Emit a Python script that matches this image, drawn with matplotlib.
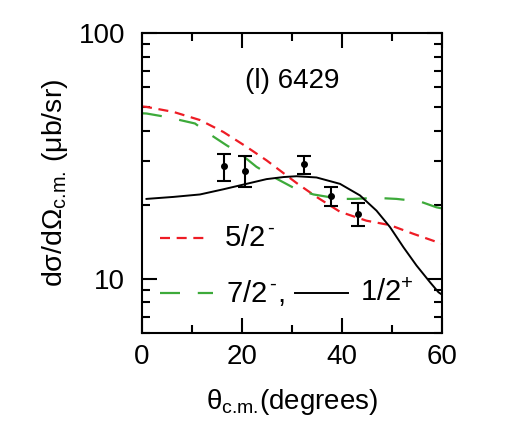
import numpy as np
import matplotlib
matplotlib.use('Agg')
import matplotlib.pyplot as plt
from matplotlib.ticker import LogLocator, NullFormatter, FixedLocator

plt.rcParams['font.family'] = ['Liberation Sans', 'DejaVu Sans']
plt.rcParams['mathtext.fontset'] = 'custom'
plt.rcParams['mathtext.rm'] = 'Liberation Sans'
plt.rcParams['mathtext.it'] = 'Liberation Sans:italic'

# data points
theta_exp = [16.3, 20.5, 32.3, 37.7, 43.1]
xs_exp = [28.6, 27.4, 29.2, 21.7, 18.4]
err_lo = [3.7, 3.8, 2.6, 2.0, 2.1]
err_hi = [3.7, 4.1, 2.3, 1.9, 2.0]

# 5/2- curve
theta_52 = [0.0, 0.9, 6.3, 11.6, 16.3, 20.9, 24.9, 28.9, 30.9, 34.9, 39.6,
            44.9, 49.6, 54.3, 58.9, 60.0]
xs_52 = [50.2, 50.0, 47.7, 44.2, 39.5, 34.4, 30.3, 26.3, 24.5, 21.5, 18.7,
         17.2, 16.5, 15.2, 14.1, 13.9]

# 7/2- curve
theta_72 = [0.0, 0.9, 4.9, 10.6, 12.9, 16.9, 19.6, 22.9, 26.3, 30.7, 34.3,
            39.6, 42.2, 46.9, 50.9, 55.6, 58.9, 60.0]
xs_72 = [47.1, 47.0, 45.5, 42.8, 39.5, 34.9, 32.3, 28.5, 25.9, 23.2, 22.0,
         21.1, 21.1, 21.3, 21.1, 20.6, 19.5, 19.3]

# 1/2+ curve
theta_12 = [0.9, 6.3, 11.6, 16.3, 20.9, 24.9, 28.3, 30.9, 34.9, 39.6, 43.6,
            46.9, 49.6, 52.3, 54.9, 57.6, 59.3, 60.0]
xs_12 = [21.1, 21.5, 22.0, 23.1, 24.3, 25.4, 25.9, 26.1, 25.8, 24.3, 21.8,
         18.9, 16.2, 13.4, 11.3, 9.66, 8.79, 8.6]

fig = plt.figure(figsize=(5.09, 4.44), dpi=100)
ax = fig.add_axes([142/509, 1-333/444, 300/509, 300/444])

red = '#ee1c25'
green = '#3daa3a'
dash52 = (0, (4.5, 3))
dash72 = (0, (9, 8))

ax.plot(theta_52, xs_52, color=red, linestyle=dash52, lw=1.6)
ax.plot(theta_72, xs_72, color=green, linestyle=dash72, lw=1.6)
ax.plot(theta_12, xs_12, color='black', linestyle='-', lw=1.4)
ax.errorbar(theta_exp, xs_exp, yerr=[err_lo, err_hi], fmt='o', color='black',
            markersize=4, capsize=5, elinewidth=1.5, capthick=1.5)

ax.set_yscale('log')
ax.set_xlim(0, 60)
ax.set_ylim(6, 100)

ax.xaxis.set_major_locator(FixedLocator([0, 20, 40, 60]))
ax.xaxis.set_minor_locator(FixedLocator([10, 30, 50]))
ax.yaxis.set_minor_locator(LogLocator(base=10, subs=np.arange(2, 10), numticks=12))
ax.yaxis.set_minor_formatter(NullFormatter())
ax.set_yticks([10, 100])
ax.set_yticklabels(['10', '100'])

ax.tick_params(which='both', direction='in', top=True, right=True, width=1.5,
               labelsize=20)
ax.tick_params(axis='y', pad=12)
ax.tick_params(axis='x', pad=8)
ax.tick_params(which='major', length=11)
ax.tick_params(which='minor', length=6)
for s in ax.spines.values():
    s.set_linewidth(1.5)

ax.set_xlabel(r'θ$_{\text{c.m.}}$(degrees)', fontsize=20, labelpad=12)
ax.set_ylabel(r'dσ/dΩ$_{\text{c.m.}}$ (μb/sr)', fontsize=20.5, labelpad=6)

ax.text(0.5, 0.84, '(l) 6429', transform=ax.transAxes, fontsize=20,
        ha='center', va='center')

# legend drawn by hand
leg_fs = 21
ax.plot([0.06, 0.227], [0.317, 0.317], transform=ax.transAxes,
        color=red, linestyle=dash52, lw=1.6)
ax.text(0.275, 0.317, r'5/2$^{\,\text{-}}$', transform=ax.transAxes,
        fontsize=leg_fs, va='center')
ax.plot([0.06, 0.237], [0.133, 0.133], transform=ax.transAxes,
        color=green, linestyle=dash72, lw=1.6)
ax.text(0.28, 0.133, r'7/2$^{\,\text{-}}$,', transform=ax.transAxes,
        fontsize=leg_fs, va='center')
ax.plot([0.51, 0.687], [0.133, 0.133], transform=ax.transAxes,
        color='black', lw=1.4)
ax.text(0.725, 0.133, r'1/2$^{+}$', transform=ax.transAxes,
        fontsize=leg_fs, va='center')

fig.savefig('out.png', dpi=100)
